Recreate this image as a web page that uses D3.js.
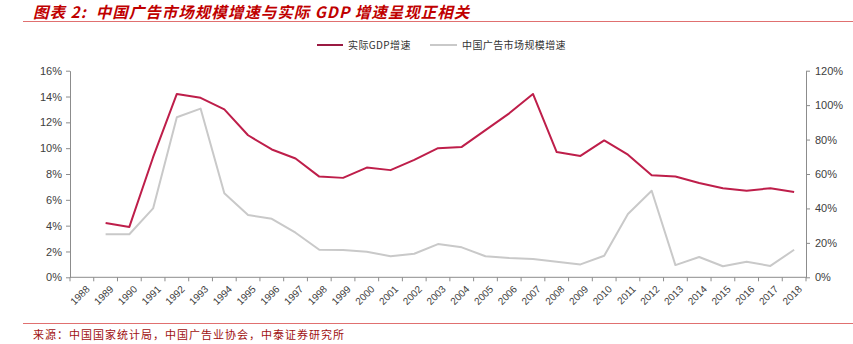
<!DOCTYPE html>
<html><head><meta charset="utf-8">
<script src="https://cdn.jsdelivr.net/npm/d3@7"></script>
<style>
html,body{margin:0;padding:0;background:#fff;}
svg{display:block;}
</style></head>
<body>
<script>
const years = [1988,1989,1990,1991,1992,1993,1994,1995,1996,1997,1998,1999,2000,2001,2002,2003,2004,2005,2006,2007,2008,2009,2010,2011,2012,2013,2014,2015,2016,2017,2018];
const gdpGrowth = [null,4.2,3.9,9.3,14.2,13.9,13.0,11.0,9.9,9.2,7.8,7.7,8.5,8.3,9.1,10.0,10.1,11.4,12.7,14.2,9.7,9.4,10.6,9.5,7.9,7.8,7.3,6.9,6.7,6.9,6.6];
const adGrowth = [null,25.0,25.0,40.0,93.0,98.0,48.8,36.2,34.0,25.9,16.0,15.9,14.9,12.2,13.7,19.3,17.4,12.2,11.2,10.6,9.1,7.5,12.5,36.8,50.3,7.1,11.8,6.4,9.0,6.6,16.0];
const leftTicks = [0,2,4,6,8,10,12,14,16];
const rightTicks = [0,20,40,60,80,100,120];
const seriesNames = ["实际GDP增速","中国广告市场规模增速"];
const titleText = "图表 2:  中国广告市场规模增速与实际 GDP 增速呈现正相关";
const sourceText = "来源：中国国家统计局，中国广告业协会，中泰证券研究所";

const W = 853, H = 344;
const pL = 70, pR = 806, pT = 70.7, pB = 277.3;
const red = "#BE1E4A", gray = "#C9C9C9", axisCol = "#8C8C8C", txt = "#404040";
const titleRed = "#C00000";

const svg = d3.select("body").append("svg").attr("width", W).attr("height", H);

// title
svg.append("text").attr("x", 33).attr("y", 17.5)
  .attr("font-family", "'Noto Sans CJK SC', sans-serif").attr("font-size", 15.5)
  .attr("font-weight", "bold").attr("font-style", "italic").attr("letter-spacing", 1)
  .attr("fill", titleRed).style("white-space","pre").text(titleText);
svg.append("line").attr("x1", 23).attr("x2", W).attr("y1", 21.5).attr("y2", 21.5)
  .attr("stroke", "#E07070").attr("stroke-width", 1);

// source
svg.append("line").attr("x1", 23).attr("x2", W).attr("y1", 323.5).attr("y2", 323.5)
  .attr("stroke", "#E07070").attr("stroke-width", 1);
svg.append("text").attr("x", 33).attr("y", 339)
  .attr("font-family", "'Noto Sans CJK SC', sans-serif").attr("font-size", 11)
  .attr("letter-spacing", 1)
  .attr("fill", "#A01010").text(sourceText);

const x = d3.scaleBand().domain(years).range([pL, pR]).paddingInner(0).paddingOuter(0);
const yL = d3.scaleLinear().domain([0, 16]).range([pB, pT]);
const yR = d3.scaleLinear().domain([0, 120]).range([pB, pT]);
const cx = d => x(d) + x.bandwidth() / 2;

// left axis
const gL = svg.append("g").attr("transform", `translate(${pL},0)`)
  .call(d3.axisLeft(yL).tickValues(leftTicks).tickSize(4).tickSizeOuter(0).tickPadding(4).tickFormat(d => d + "%"));
// right axis
const gR = svg.append("g").attr("transform", `translate(${pR},0)`)
  .call(d3.axisRight(yR).tickValues(rightTicks).tickSize(4).tickSizeOuter(0).tickPadding(5).tickFormat(d => d + "%"));
[gL, gR].forEach(g => {
  g.select(".domain").attr("stroke", axisCol);
  g.selectAll(".tick line").attr("stroke", axisCol);
  g.selectAll(".tick text").attr("fill", txt).attr("font-family", "Arial, 'Liberation Sans', sans-serif").attr("font-size", 11);
});

// x axis
const gX = svg.append("g");
gX.append("line").attr("x1", pL).attr("x2", pR).attr("y1", pB).attr("y2", pB).attr("stroke", axisCol);
const bounds = years.map(d => x(d)).concat([x(years[years.length - 1]) + x.bandwidth()]);
gX.selectAll("line.tk").data(bounds).enter().append("line").attr("class", "tk")
  .attr("x1", d => d).attr("x2", d => d).attr("y1", pB).attr("y2", pB + 4).attr("stroke", axisCol);
gX.selectAll("text").data(years).enter().append("text")
  .attr("transform", d => `translate(${cx(d) + 6},${pB + 10}) rotate(-45)`)
  .attr("text-anchor", "end").attr("dy", "0.35em")
  .attr("font-family", "Arial, 'Liberation Sans', sans-serif").attr("font-size", 10)
  .attr("fill", txt).text(d => d);

// lines
const idx = years.map((d, i) => i);
const lineL = d3.line().defined(i => gdpGrowth[i] != null).x(i => cx(years[i])).y(i => yL(gdpGrowth[i]));
const lineR = d3.line().defined(i => adGrowth[i] != null).x(i => cx(years[i])).y(i => yR(adGrowth[i]));
svg.append("path").attr("d", lineR(idx)).attr("fill", "none").attr("stroke", gray).attr("stroke-width", 2).attr("stroke-linejoin", "round");
svg.append("path").attr("d", lineL(idx)).attr("fill", "none").attr("stroke", red).attr("stroke-width", 2).attr("stroke-linejoin", "round");

// legend
const lg = svg.append("g").attr("font-family", "'Noto Sans CJK SC', sans-serif").attr("font-size", 10).attr("letter-spacing", 0.4).attr("fill", "#333");
lg.append("line").attr("x1", 317).attr("x2", 343).attr("y1", 45).attr("y2", 45).attr("stroke", "#9A1A42").attr("stroke-width", 2);
lg.append("text").attr("x", 348).attr("y", 45).attr("dy", "0.35em").text(seriesNames[0]);
lg.append("line").attr("x1", 430).attr("x2", 457).attr("y1", 45).attr("y2", 45).attr("stroke", gray).attr("stroke-width", 2);
lg.append("text").attr("x", 462).attr("y", 45).attr("dy", "0.35em").text(seriesNames[1]);
</script>
</body></html>
